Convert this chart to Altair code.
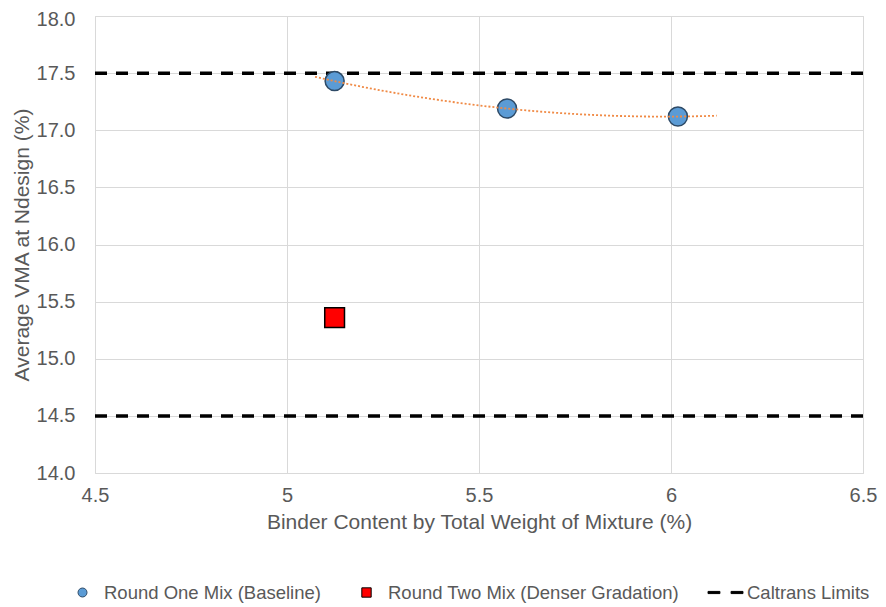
import altair as alt
import pandas as pd

# ---- data ----
round_one_x = [5.124, 5.573, 6.018]
round_one_y = [17.43, 17.19, 17.12]
round_two_x = [5.124]
round_two_y = [15.36]
limit_values = [17.5, 14.5]
series_names = [
    "Round One Mix (Baseline)",
    "Round Two Mix (Denser Gradation)",
    "Caltrans Limits",
]
x_ticks = [4.5, 5, 5.5, 6, 6.5]
y_ticks = [14.0, 14.5, 15.0, 15.5, 16.0, 16.5, 17.0, 17.5, 18.0]
trend_extent = [5.073, 6.119]

points = pd.DataFrame({
    "x": round_one_x + round_two_x,
    "y": round_one_y + round_two_y,
    "series": [series_names[0]] * len(round_one_x) + [series_names[1]] * len(round_two_x),
})
limits = pd.DataFrame({"y": limit_values})

FONT = "Liberation Sans"
GREY = "#595959"
GRID = "#D9D9D9"

circle_path = "M-0.25,0A0.25,0.25,0,1,1,0.25,0A0.25,0.25,0,1,1,-0.25,0Z"
square_path = "M-0.26,-0.26H0.26V0.26H-0.26Z"
dash_path = "M-0.97,-0.06H-0.31V0.06H-0.97Z M0.31,-0.06H0.97V0.06H0.31Z"

legend = alt.Legend(
    title=None, orient="none", legendX=-31, legendY=558, direction="horizontal",
    symbolSize=1296, symbolStrokeWidth=1, labelFontSize=18.5, labelColor=GREY,
    labelFont=FONT, labelOffset=3, columnPadding=27, padding=0, labelLimit=0,
    symbolOpacity=1,
)

xscale = alt.Scale(domain=[4.5, 6.5], nice=False, zero=False)
yscale = alt.Scale(domain=[14, 18], nice=False, zero=False)

x_axis = alt.Axis(values=x_ticks, format="~g", title="Binder Content by Total Weight of Mixture (%)",
                  labelFontSize=20, labelColor=GREY, labelFont=FONT, labelPadding=12,
                  labelFlush=False, labelOverlap=False,
                  titleFontSize=21, titleColor=GREY, titleFont=FONT, titleFontWeight="normal",
                  titlePadding=6, grid=True, gridColor=GRID, domain=False, ticks=False)
y_axis = alt.Axis(values=y_ticks, format=".1f", title="Average VMA at Ndesign (%)",
                  labelFontSize=20, labelColor=GREY, labelFont=FONT, labelPadding=20,
                  labelFlush=False, labelOverlap=False,
                  labelOffset={"condition": {"test": "datum.value >= 18", "value": 3}, "value": 0},
                  titleFontSize=21, titleColor=GREY, titleFont=FONT, titleFontWeight="normal",
                  titlePadding=4, grid=True, gridColor=GRID, domain=False, ticks=False)

rules = alt.Chart(limits).mark_rule(color="black", strokeWidth=3.5, strokeDash=[12, 9]).encode(
    y=alt.Y("y:Q", scale=yscale, axis=y_axis)
)

pts = alt.Chart(points).mark_point(filled=True, size=5776, opacity=1, strokeWidth=1.5).encode(
    x=alt.X("x:Q", scale=xscale, axis=x_axis),
    y=alt.Y("y:Q", scale=yscale, axis=y_axis),
    color=alt.Color("series:N", scale=alt.Scale(domain=series_names, range=["#5B9BD5", "#FF0000", "#000000"]), legend=legend),
    shape=alt.Shape("series:N", scale=alt.Scale(domain=series_names, range=[circle_path, square_path, dash_path]), legend=legend),
    stroke=alt.Stroke("series:N", scale=alt.Scale(domain=series_names, range=["#2E4A66", "#000000", "#000000"]), legend=legend),
)

trend = alt.Chart(points).transform_filter(
    alt.datum.series == series_names[0]
).transform_regression("x", "y", method="poly", order=2, extent=trend_extent).mark_line(
    color="#F08A45", strokeWidth=1.8, strokeDash=[2, 2]
).encode(
    x=alt.X("x:Q", scale=xscale, axis=x_axis),
    y=alt.Y("y:Q", scale=yscale, axis=y_axis),
)

chart = alt.layer(rules, pts, trend).properties(
    width=768, height=457,
    autosize=alt.AutoSizeParams(type="none"),
    padding={"left": 87, "top": 8, "right": 15, "bottom": 133},
    background="white",
).configure_view(stroke=GRID)

chart.save("out.html", embed_options={"renderer": "svg", "actions": False})
